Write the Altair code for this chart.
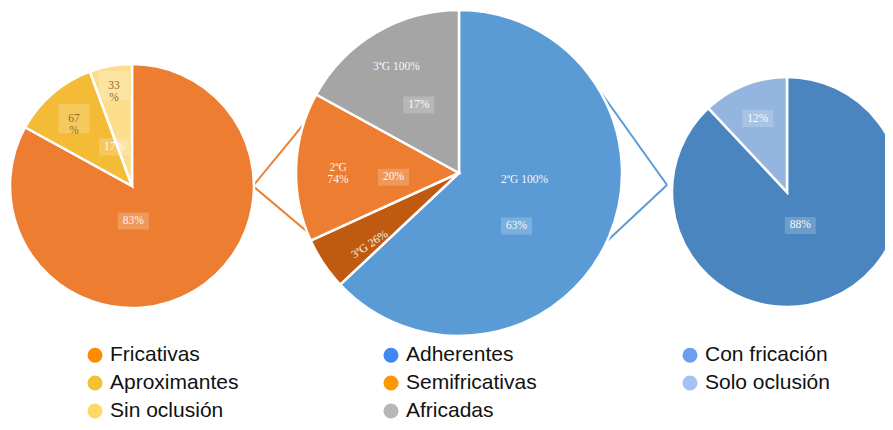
import altair as alt
import pandas as pd

# ---------------- data ----------------
left_cats = ["Fricativas", "Aproximantes", "Sin oclusión"]
left_main = [83, 17]            # Fricativas vs (Aproximantes + Sin oclusión)
left_split = [67, 33]           # share of the 17 % slice
mid_cats = ["Adherentes", "Semifricativas", "Africadas"]
mid_values = [63, 20, 17]
mid_split_names = ["2ªG", "3ªG"]
mid_split = [74, 26]            # share of the Semifricativas slice
right_cats = ["Con fricación", "Solo oclusión"]
right_values = [88, 12]

legend_names = ["Fricativas", "Aproximantes", "Sin oclusión",
                "Adherentes", "Semifricativas", "Africadas",
                "Con fricación", "Solo oclusión"]
legend_colors = ["#FB8C00", "#F1C232", "#FFD966",
                 "#4285F4", "#FF9800", "#B7B7B7",
                 "#6D9EEB", "#A4C2F4"]

# slice colours
left_colors = ["#ED7D31", "#F4BC36", "#FBDD8B"]
mid_colors = ["#5B9BD5", "#C05A10", "#ED7D31", "#A5A5A5"]
right_colors = ["#4A85BF", "#93B5DF"]

# ---------------- tables ----------------
left_main_df = pd.DataFrame({"cat": ["Fricativas", "Aprox"], "value": left_main,
                             "ord": [0, 1]})
left_df = pd.DataFrame({
    "cat": left_cats,
    "value": [left_main[0], left_main[1] * left_split[0] / 100, left_main[1] * left_split[1] / 100],
    "ord": [0, 1, 2], "color": left_colors})
mid_main_df = pd.DataFrame({"cat": mid_cats, "value": mid_values, "ord": [0, 1, 2]})
mid_df = pd.DataFrame({
    "cat": ["Adherentes", "3ªG", "2ªG", "Africadas"],
    "value": [mid_values[0], mid_values[1] * mid_split[1] / 100,
              mid_values[1] * mid_split[0] / 100, mid_values[2]],
    "ord": [0, 1, 2, 3], "color": mid_colors})
right_df = pd.DataFrame({"cat": right_cats, "value": right_values, "ord": [0, 1],
                         "color": right_colors})

# ---------------- layout ----------------
L = dict(cx=124, cy=178, r=122)
M = dict(cx=451, cy=165, r=163)
R = dict(cx=779, cy=184, r=115)

SERIF = "Liberation Serif"


def pie(df, g):
    return alt.Chart(df).mark_arc(radius=g["r"], stroke="white", strokeWidth=2.5).encode(
        theta=alt.Theta("value:Q", stack=True),
        order=alt.Order("ord:Q"),
        fill=alt.Fill("color:N", scale=None),
        x=alt.value(g["cx"]), y=alt.value(g["cy"]),
    )


def label(df, g, cat, text, r, color="white", dx=0, dy=0, angle=0, size=11.5,
          opacity=0.92, line_height=12):
    d = df[["cat", "value", "ord"]].copy()
    d["lab"] = [text if c == cat else "" for c in d["cat"]]
    return alt.Chart(d).mark_text(
        radius=r, dx=dx, dy=dy, angle=angle, fontSize=size, font=SERIF, color=color,
        opacity=opacity, align="center", baseline="middle", lineBreak="\n",
        lineHeight=line_height,
    ).encode(
        theta=alt.Theta("value:Q", stack=True),
        order=alt.Order("ord:Q"),
        text=alt.Text("lab:N"),
        x=alt.value(g["cx"]), y=alt.value(g["cy"]),
    )


def box(df, g, cat, r, dx=0, dy=0, two=False):
    # translucent rectangle behind a data label, placed at the slice's mid angle
    shape = "M-1,-0.95H1V0.95H-1Z" if two else "M-1,-0.55H1V0.55H-1Z"
    size = 31 * 31
    return alt.Chart(df[["cat", "value", "ord"]]).transform_window(
        cum="sum(value)", sort=[alt.SortField("ord")]
    ).transform_calculate(
        a="2*PI*(datum.cum - datum.value/2)/100"
    ).transform_calculate(
        px=f"{g['cx']} + {r}*sin(datum.a) + ({dx})",
        py=f"{g['cy']} - {r}*cos(datum.a) + ({dy})",
    ).transform_filter(
        alt.datum.cat == cat
    ).mark_point(
        shape=shape, size=size, filled=True, color="white", opacity=0.2, strokeWidth=0
    ).encode(
        x=alt.X("px:Q", scale=None, axis=None),
        y=alt.Y("py:Q", scale=None, axis=None),
    )


def rule(x, y, x2, y2, color):
    return alt.Chart(pd.DataFrame({"k": [0]})).mark_rule(color=color, strokeWidth=2).encode(
        x=alt.value(x), y=alt.value(y), x2=alt.value(x2), y2=alt.value(y2))


DARK = "#8C6D2E"

layers = [
    # connectors
    rule(L["cx"] + L["r"] - 1, L["cy"], 318, 89, "#E8823A"),
    rule(L["cx"] + L["r"] - 1, L["cy"], 360, 275, "#E8823A"),
    rule(659, 177, 589, 79, "#5B9BD5"),
    rule(659, 177, 582, 249, "#5B9BD5"),
    # pies
    pie(left_df, L),
    pie(right_df, R),
    pie(mid_df, M),
    # label boxes
    box(left_main_df, L, "Fricativas", 36, dx=-17, dy=4),
    box(left_main_df, L, "Aprox", 42, dx=4, dy=-3),
    box(left_df, L, "Aproximantes", 89, two=True),
    box(left_df, L, "Sin oclusión", 102, two=True),
    box(mid_main_df, M, "Adherentes", 78, dx=-14, dy=22),
    box(mid_main_df, M, "Semifricativas", 66, dy=-4),
    box(mid_main_df, M, "Africadas", 79),
    box(right_df, R, "Con fricación", 36),
    box(right_df, R, "Solo oclusión", 79),
    # labels
    label(left_main_df, L, "Fricativas", "83%", 36, dx=-17, dy=4),
    label(left_main_df, L, "Aprox", "17%", 42, dx=4, dy=-3),
    label(left_df, L, "Aproximantes", "67\n%", 89, color=DARK, opacity=1),
    label(left_df, L, "Sin oclusión", "33\n%", 102, color=DARK, opacity=1),
    label(mid_main_df, M, "Adherentes", "63%", 78, dx=-14, dy=22),
    label(mid_main_df, M, "Adherentes", "2ªG 100%", 66, dx=5, dy=-19),
    label(mid_main_df, M, "Semifricativas", "20%", 66, dy=-4),
    label(mid_main_df, M, "Africadas", "17%", 79),
    label(mid_main_df, M, "Africadas", "3ªG 100%", 123),
    label(mid_df, M, "2ªG", "2ªG\n74%", 121),
    label(mid_df, M, "3ªG", "3ªG 26%", 120, dx=6, dy=10, angle=326),
    label(right_df, R, "Con fricación", "88%", 36),
    label(right_df, R, "Solo oclusión", "12%", 79),
]

legend_df = pd.DataFrame({"cat": legend_names})
legend_layer = alt.Chart(legend_df).mark_point(filled=True, opacity=0).encode(
    color=alt.Color(
        "cat:N",
        scale=alt.Scale(domain=legend_names, range=legend_colors),
        legend=alt.Legend(
            title=None, orient="none", legendX=76.5, legendY=336.5, columns=3,
            columnPadding=142, rowPadding=6, padding=0,
            symbolType="circle", symbolSize=227, symbolStrokeWidth=0, symbolOpacity=1,
            labelFont="Liberation Sans", labelFontSize=21, labelColor="#111111",
            labelOffset=4.5, labelLimit=300,
        ),
    ),
    x=alt.value(0), y=alt.value(0),
)

chart = alt.layer(*layers, legend_layer).properties(
    width=877, height=414, padding=0,
    autosize=alt.AutoSizeParams(type="none"),
).configure_view(stroke="transparent")

chart.save("out.html", embed_options={"renderer": "svg", "actions": False})
